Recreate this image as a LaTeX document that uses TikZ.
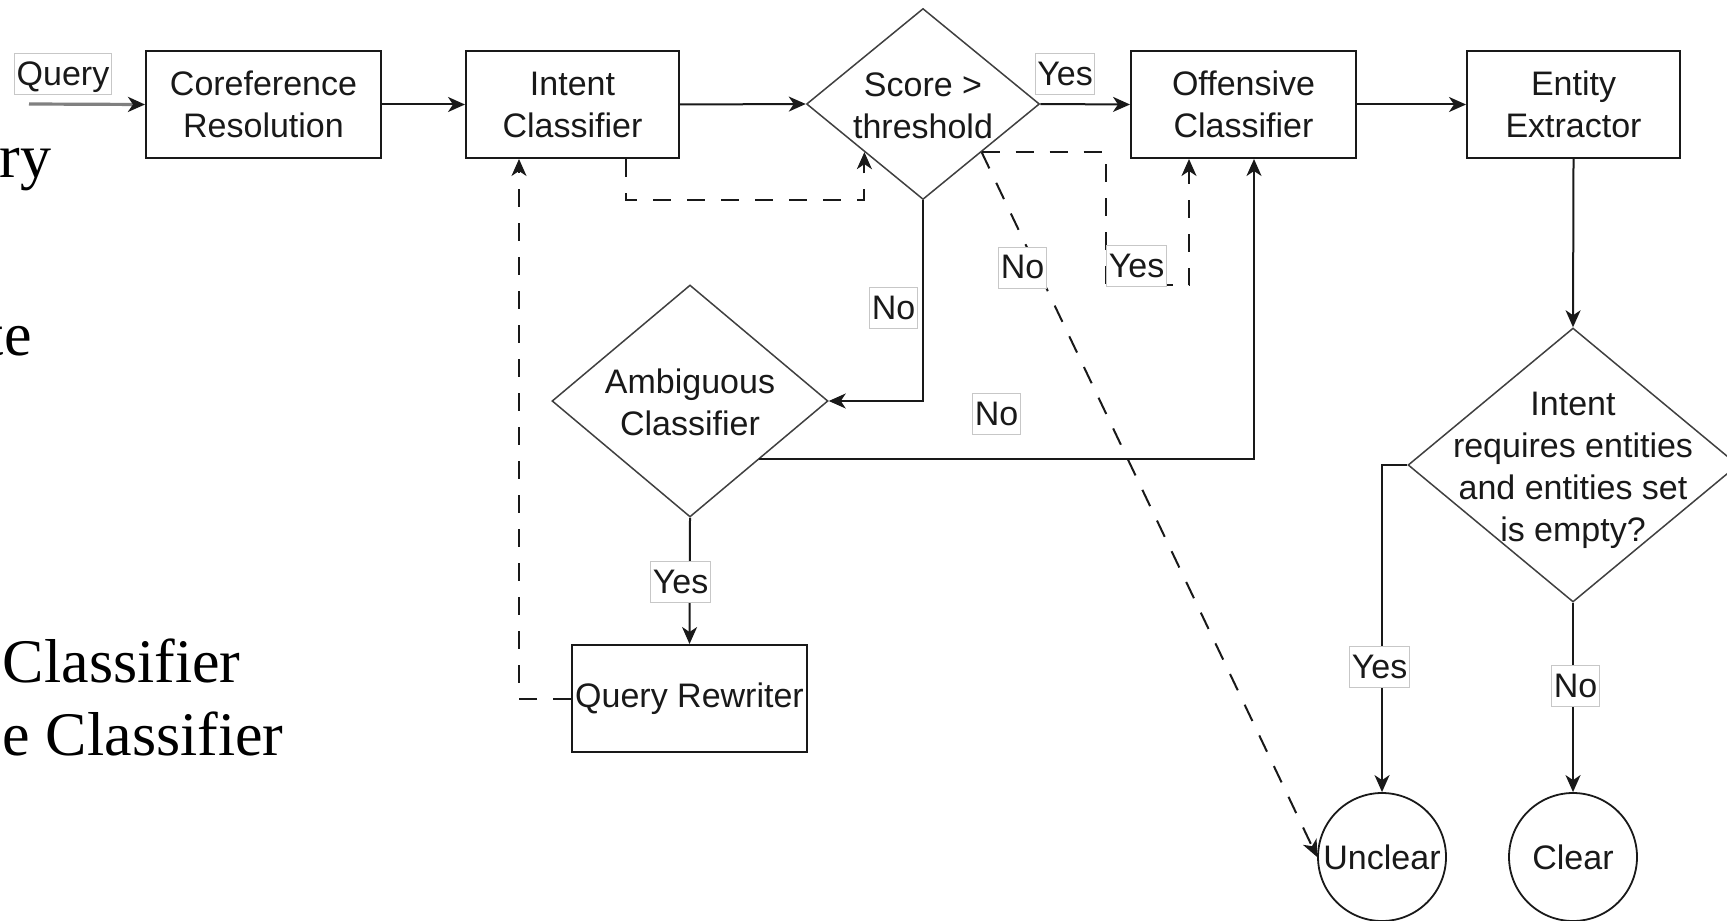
\documentclass[tikz,border=0pt]{standalone}
\usepackage{fontspec}
\setmainfont{Liberation Sans}
\newfontfamily\serifdoc{Liberation Serif}
\usetikzlibrary{shapes.geometric,arrows.meta,calc}

% text set inside a decision diamond without widening the shape
\newcommand\dtext[1]{\makebox[0pt]{\raisebox{-0.39em}[0pt][0pt]{\begin{tabular}{@{}c@{}}#1\end{tabular}}}}

\begin{document}
\begin{tikzpicture}[x=0.5pt, y=-0.5pt,
  every node/.style={font=\fontsize{17}{21}\selectfont, text=black!90},
  box/.style={draw=black!90, line width=1pt, minimum height=53.5pt, inner sep=0pt, align=center},
  decision/.style={draw=black!75, line width=0.75pt, diamond, inner sep=0pt, shape aspect=1},
  terminal/.style={draw=black!90, line width=0.9pt, circle, minimum size=64pt, inner sep=0pt},
  lbl/.style={draw=black!22, fill=white, line width=0.5pt, inner xsep=1pt, inner ysep=2.25pt,
              text height=13.5pt, text depth=2.5pt},
  flow/.style={draw=black!90, line width=1pt, -{Stealth[length=8.5pt,width=7.5pt,inset=2.5pt]}},
  alt/.style={flow, dash pattern=on 9pt off 8pt},
  qflow/.style={draw=black!50, line width=1.6pt,
                -{Stealth[length=8.5pt,width=7.5pt,inset=2.5pt,color=black!90]}},
  fragment/.style={font=\serifdoc\fontsize{31}{37}\selectfont, text=black, inner sep=0pt, anchor=base east},
]
\useasboundingbox (0,0) rectangle (1727,920);
\fill[white] (0,0) rectangle (1727,920);
\clip (0,0) rectangle (1727,920);

% pieces of body text running in from the left
\node[fragment] (frag1) at (52,177) {ry};
\node[fragment] (frag2) at (32,355) {te};
\node[fragment] (frag3) at (241,682) {Classifier};
\node[fragment] (frag4) at (284,755) {e Classifier};

% processing steps
\node[box, minimum width=117.5pt] (coref) at (263.5,104.5) {Coreference\\Resolution};
\node[box, minimum width=106.5pt] (intent) at (572.5,104.5) {Intent\\Classifier};
\node[box, minimum width=112.5pt] (offensive) at (1243.5,104.5) {Offensive\\Classifier};
\node[box, minimum width=106.5pt] (entity) at (1573.5,104.5) {Entity\\Extractor};
\node[box, minimum width=117.5pt] (rewriter) at (689.5,698.5) {Query Rewriter};

% decisions
\node[decision, minimum width=116.5pt, minimum height=95.5pt] (score) at (923,104) {\dtext{Score >\\threshold}};
\node[decision, minimum width=138pt, minimum height=116pt] (amb) at (690,401) {\dtext{Ambiguous\\Classifier}};
\node[decision, minimum width=165pt, minimum height=137pt] (needs) at (1573,465)
  {\dtext{Intent\\requires entities\\and entities set\\is empty?}};

% outcomes
\node[terminal] (unclear) at (1382,857) {Unclear};
\node[terminal] (clear) at (1573,857) {Clear};

% main flow
\coordinate (qstart) at (29,104);
\draw[qflow] (qstart) -- (coref.west);
\draw[flow] (coref.east) -- (intent.west);
\draw[flow] (intent.east) -- (score.west);
\draw[flow] (score.east) -- (offensive.west);
\draw[flow] (offensive.east) -- (entity.west);
\draw[flow] (entity.south) -- (needs.north);
\draw[flow] (needs.west) -| (unclear.north);
\draw[flow] (needs.south) -- (clear.north);
\draw[flow] (score.south) |- (amb.east);
\draw[flow] (amb.south) -- (rewriter.north);
\draw[flow] (amb.south east) -| ($(offensive.south)+(10.5,0)$);

% alternative (dashed) routes
\draw[alt] ($(intent.south)+(53.5,0)$) -- ++(0,41) -| (score.south west);
\draw[alt] (score.south east) -| ($(score.south east)+(124,133)$) -| ($(offensive.south)+(-54.5,0)$);
\draw[alt] (score.south east) -- (unclear.west);
\draw[alt] (rewriter.west) -| ($(intent.south)+(-53.5,0)$);

% edge labels
\node[lbl] (lquery) at (63,74.5) {Query};
\node[lbl] (lyes1) at (1065,74.5) {Yes};
\node[lbl] (lno1) at (893.5,308) {No};
\node[lbl] (lno2) at (1022.5,267.5) {No};
\node[lbl] (lyes2) at (1136.5,266) {Yes};
\node[lbl] (lno3) at (996.5,414) {No};
\node[lbl] (lyes3) at (680.5,582) {Yes};
\node[lbl] (lyes4) at (1379.5,667) {Yes};
\node[lbl] (lno4) at (1575.5,686) {No};
\end{tikzpicture}
\end{document}
